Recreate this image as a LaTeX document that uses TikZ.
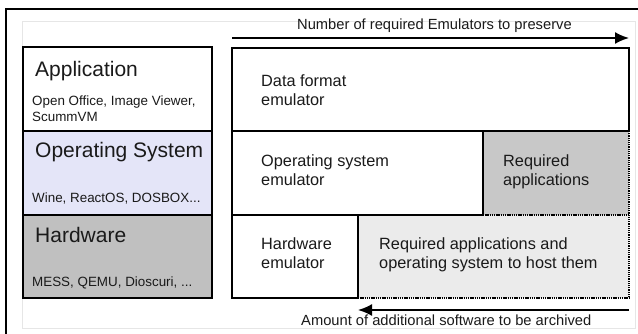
\documentclass[tikz,border=0pt]{standalone}
\usepackage{fontspec}
\setmainfont{Liberation Sans}
\usetikzlibrary{arrows.meta}
\definecolor{txt}{HTML}{1A1A1A}
\definecolor{osfill}{HTML}{E4E5F8}
\definecolor{hwfill}{HTML}{C0C0C0}
\definecolor{reqfill}{HTML}{C8C8C8}
\definecolor{lightfill}{HTML}{EBEBEB}
\definecolor{faint}{HTML}{E6E6E6}
\begin{document}
\begin{tikzpicture}[x=1pt,y=-1pt,
  box/.style={draw=black, line width=2.6pt, rectangle, inner sep=0pt, outer sep=0pt, anchor=north west},
  area/.style={rectangle, inner sep=0pt, outer sep=0pt, anchor=north west},
  dotline/.style={draw=black, line width=2.2pt, dash pattern=on 1.3pt off 0.9pt},
  big/.style={anchor=base west, inner sep=0pt, text=txt, font=\fontsize{21}{25}\selectfont},
  small/.style={anchor=base west, inner sep=0pt, text=txt, font=\fontsize{13.4}{16}\selectfont},
  mid/.style={anchor=base west, inner sep=0pt, text=txt, font=\fontsize{16.3}{19}\selectfont, align=left},
  lbl/.style={anchor=base west, inner sep=0pt, text=txt, font=\fontsize{14.7}{17}\selectfont},
  arr/.style={line width=1.8pt, -{Latex[length=14pt,width=12pt]}}
]
\useasboundingbox (0,0) rectangle (638,334);
\fill[white] (0,0) rectangle (638,334);
% frame
\draw[faint, line width=0.8pt] (22,21) rectangle (635,328);
\draw[black, line width=1.8pt] (6,334) -- (6,9) -- (638,9);

% left column
\node[box, fill=white, minimum width=189pt, minimum height=84pt] (app) at (23,47) {};
\node[box, fill=osfill, minimum width=189pt, minimum height=84pt] (os) at (23,131) {};
\node[box, fill=hwfill, minimum width=189pt, minimum height=83pt] (hw) at (23,215) {};
\node[big] (appt) at (35,77) {Application};
\node[small] (appd1) at (32,106) {Open Office, Image Viewer,};
\node[small] (appd2) at (32,122) {ScummVM};
\node[big] (ost) at (35,158) {Operating System};
\node[small] (osd) at (32,203) {Wine, ReactOS, DOSBOX...};
\node[big] (hwt) at (35,243) {Hardware};
\node[small] (hwd) at (32,287) {MESS, QEMU, Dioscuri, ...};

% right column: grey areas
\node[area, fill=reqfill, minimum width=146pt, minimum height=84pt] (req) at (483,131) {};
\node[area, fill=lightfill, minimum width=271pt, minimum height=83pt] (reqos) at (358,215) {};
\draw[dotline] (req.north east) -- (reqos.south east);
\draw[dotline] (req.south west) -- (req.south east);
\draw[dotline] (reqos.south west) -- (reqos.south east);

% right column: emulator boxes
\node[box, fill=white, minimum width=397pt, minimum height=83pt] (dfe) at (232,48) {};
\node[box, fill=white, minimum width=251pt, minimum height=84pt] (ose) at (232,131) {};
\node[box, fill=white, minimum width=126pt, minimum height=83pt] (hwe) at (232,215) {};

\node[mid] (dfet1) at (261,86.5) {Data format};
\node[mid] (dfet2) at (261,105.5) {emulator};
\node[mid] (oset1) at (261,166.5) {Operating system};
\node[mid] (oset2) at (261,185.5) {emulator};
\node[mid] (hwet1) at (261,250) {Hardware};
\node[mid] (hwet2) at (261,269) {emulator};
\node[mid] (reqt1) at (503,166.5) {Required};
\node[mid] (reqt2) at (503,185.5) {applications};
\node[mid] (reqost1) at (379,249.5) {Required applications and};
\node[mid] (reqost2) at (379,268.5) {operating system to host them};

% arrows
\coordinate (ta) at (232,38);
\coordinate (tb) at (629,38);
\draw[arr] (ta) -- (tb);
\node[lbl] (toplbl) at (297,30) {Number of required Emulators to preserve};
\coordinate (ba) at (629,310);
\coordinate (bb) at (358,310);
\draw[arr] (ba) -- (bb);
\node[lbl] (botlbl) at (301,325.5) {Amount of additional software to be archived};
\end{tikzpicture}
\end{document}
